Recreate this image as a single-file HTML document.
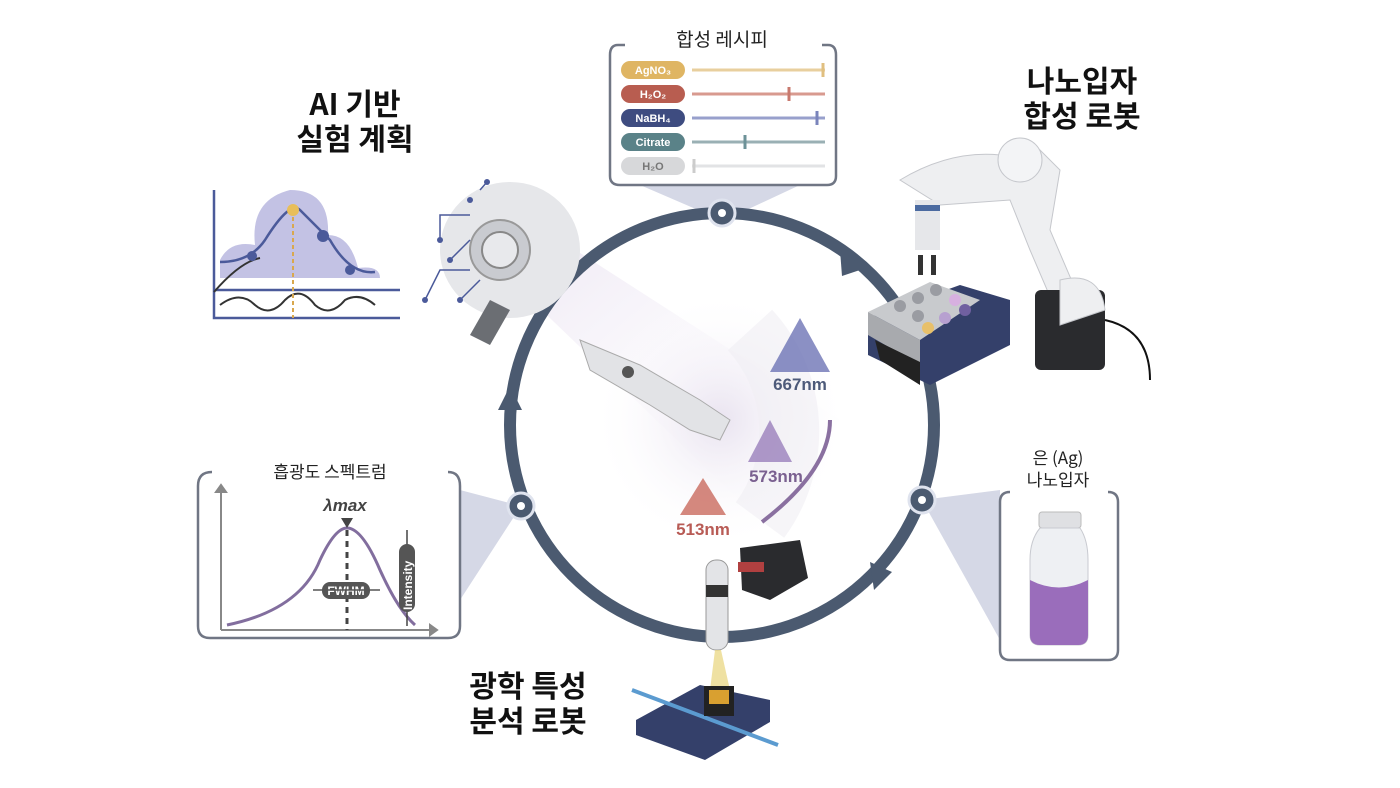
<!DOCTYPE html>
<html><head><meta charset="utf-8"><style>
html,body{margin:0;padding:0;background:#fff}
svg{display:block}
text{font-family:"Liberation Sans","Noto Sans CJK KR",sans-serif}
.k{font-family:"Noto Sans CJK KR","Liberation Sans",sans-serif}
</style></head><body>
<svg width="1400" height="788" viewBox="0 0 1400 788" xmlns="http://www.w3.org/2000/svg">
<defs>
<radialGradient id="g1" cx="50%" cy="50%" r="50%"><stop offset="0" stop-color="#e9e3f0"/><stop offset="1" stop-color="#fff" stop-opacity="0"/></radialGradient>
<linearGradient id="beam" x1="0" y1="0" x2="1" y2="1"><stop offset="0" stop-color="#eee8f4"/><stop offset="1" stop-color="#fff" stop-opacity="0"/></linearGradient>
</defs>
<!-- light beam -->
<polygon points="500,270 560,240 840,420 760,520" fill="url(#beam)"/>
<circle cx="720" cy="420" r="130" fill="url(#g1)"/>
<!-- funnels -->
<polygon points="640,185 800,185 740,213 705,213" fill="#d5d8e6"/>
<polygon points="460,490 460,600 521,506" fill="#d5d8e6"/>
<polygon points="1000,490 1000,640 922,500" fill="#d5d8e6"/>
<!-- ring -->
<circle cx="722" cy="425" r="212" fill="none" stroke="#4b5a70" stroke-width="12"/>
<polygon points="840,250 866,268 842,276" fill="#4b5a70"/>
<polygon points="870,562 892,572 874,590" fill="#4b5a70"/>
<polygon points="498,410 510,386 522,410" fill="#4b5a70"/>
<g fill="#4b5a70" stroke="#dfe3ee" stroke-width="3"><circle cx="722" cy="213" r="13"/><circle cx="521" cy="506" r="13"/><circle cx="922" cy="500" r="13"/></g>
<g fill="#fff"><circle cx="722" cy="213" r="4"/><circle cx="521" cy="506" r="4"/><circle cx="922" cy="500" r="4"/></g>
<!-- inner arc + triangles -->
<path d="M760,520 A150,150 0 0 0 750,330" fill="none" stroke="#f0eef4" stroke-width="60" opacity=".6"/>
<path d="M762,522 Q830,470 830,420" fill="none" stroke="#8a70a0" stroke-width="4"/>
<polygon points="800,318 770,372 830,372" fill="#6e74b5" opacity=".8"/>
<text x="800" y="390" font-size="17" font-weight="bold" fill="#4d5a7a" text-anchor="middle">667nm</text>
<polygon points="770,420 748,462 792,462" fill="#9a80bb" opacity=".8"/>
<text x="776" y="482" font-size="17" font-weight="bold" fill="#7a6090" text-anchor="middle">573nm</text>
<polygon points="703,478 680,515 726,515" fill="#c96a5e" opacity=".8"/>
<text x="703" y="535" font-size="17" font-weight="bold" fill="#b85b55" text-anchor="middle">513nm</text>
<!-- AI head -->
<ellipse cx="510" cy="250" rx="70" ry="68" fill="#e6e7ea"/>
<circle cx="500" cy="250" r="30" fill="#c9cbd0" stroke="#999" stroke-width="2"/>
<circle cx="500" cy="250" r="18" fill="#e8e9ec" stroke="#888" stroke-width="2"/>
<path d="M490,300 L470,335 L490,345 L510,310Z" fill="#6b6e73"/>
<g stroke="#4b5a9a" stroke-width="1.5" fill="none"><path d="M480,190 L487,182"/><path d="M470,215 L440,215 L440,240"/><path d="M470,240 L450,260"/><path d="M470,270 L440,270 L425,300"/><path d="M480,280 L460,300"/></g>
<g fill="#4b5a9a"><circle cx="487" cy="182" r="3"/><circle cx="440" cy="240" r="3"/><circle cx="450" cy="260" r="3"/><circle cx="425" cy="300" r="3"/><circle cx="460" cy="300" r="3"/><circle cx="470" cy="200" r="3"/></g>
<!-- robot hand -->
<path d="M580,340 L640,365 L700,400 L730,420 L720,440 L690,430 L650,405 L590,370Z" fill="#e2e3e6" stroke="#aaa"/>
<circle cx="628" cy="372" r="6" fill="#555"/>
<!-- AI chart -->
<text x="355" y="115" font-size="30" font-weight="bold" fill="#111" text-anchor="middle" class="k">AI 기반</text>
<text x="355" y="150" font-size="30" font-weight="bold" fill="#111" text-anchor="middle" class="k">실험 계획</text>
<path d="M220,260 Q230,240 255,245 Q250,200 290,190 Q330,190 328,235 Q350,235 358,268 Q380,265 380,278 L220,278Z" fill="#b9b7df" opacity=".85"/>
<g stroke="#4b5a9a" stroke-width="2.5" fill="none">
<path d="M214,190 L214,318 L400,318"/><path d="M214,290 L400,290"/>
<path d="M220,262 Q250,262 265,240 Q290,200 300,210 Q320,230 330,240 Q350,275 375,272"/>
</g>
<path d="M220,305 Q240,290 255,305 Q270,318 285,300 Q300,285 315,305 Q330,318 345,300 Q360,292 375,305" fill="none" stroke="#333" stroke-width="2"/>
<path d="M214,292 Q240,262 260,258" fill="none" stroke="#333" stroke-width="2"/>
<line x1="293" y1="210" x2="293" y2="318" stroke="#d9a84e" stroke-width="2" stroke-dasharray="4 3"/>
<circle cx="293" cy="210" r="6" fill="#e8be5a"/><circle cx="252" cy="256" r="5" fill="#4b5a9a"/><circle cx="323" cy="236" r="6" fill="#4b5a9a"/><circle cx="350" cy="270" r="5" fill="#4b5a9a"/>
<!-- recipe box -->
<text x="722" y="46" font-size="19" fill="#222" text-anchor="middle" class="k">합성 레시피</text>
<path d="M625,45 L618,45 Q610,45 610,55 L610,176 Q610,185 620,185 L827,185 Q836,185 836,176 L836,55 Q836,45 828,45 L822,45" fill="none" stroke="#707684" stroke-width="2.5"/>
<g font-size="11" font-weight="bold" fill="#fff" text-anchor="middle">
<rect x="621" y="61" width="64" height="18" rx="9" fill="#dfb563"/><text x="653" y="74">AgNO₃</text>
<rect x="621" y="85" width="64" height="18" rx="9" fill="#b85d50"/><text x="653" y="98">H₂O₂</text>
<rect x="621" y="109" width="64" height="18" rx="9" fill="#3e4c80"/><text x="653" y="122">NaBH₄</text>
<rect x="621" y="133" width="64" height="18" rx="9" fill="#5a8288"/><text x="653" y="146">Citrate</text>
<rect x="621" y="157" width="64" height="18" rx="9" fill="#d7d8da"/><text x="653" y="170" fill="#777">H₂O</text>
</g>
<g stroke-width="3"><line x1="692" y1="70" x2="825" y2="70" stroke="#e8cf9e"/><line x1="823" y1="63" x2="823" y2="77" stroke="#e0bf80"/>
<line x1="692" y1="94" x2="825" y2="94" stroke="#d89a8f"/><line x1="789" y1="87" x2="789" y2="101" stroke="#c8796e"/>
<line x1="692" y1="118" x2="825" y2="118" stroke="#98a0cc"/><line x1="817" y1="111" x2="817" y2="125" stroke="#7a84bb"/>
<line x1="692" y1="142" x2="825" y2="142" stroke="#9ab0b4"/><line x1="745" y1="135" x2="745" y2="149" stroke="#6d9298"/>
<line x1="692" y1="166" x2="825" y2="166" stroke="#e2e3e5"/><line x1="694" y1="159" x2="694" y2="173" stroke="#ccc"/></g>
<!-- synth robot -->
<text x="1082" y="92" font-size="30" font-weight="bold" fill="#111" text-anchor="middle" class="k">나노입자</text>
<text x="1082" y="127" font-size="30" font-weight="bold" fill="#111" text-anchor="middle" class="k">합성 로봇</text>
<path d="M900,180 Q950,150 1000,155 L1040,150 L1060,170 L1050,230 L1080,300 L1060,320 L1030,250 L1010,200 L940,205 Z" fill="#eeeff1" stroke="#c5c7cc"/>
<circle cx="1020" cy="160" r="22" fill="#f3f4f6" stroke="#c5c7cc"/>
<rect x="1035" y="290" width="70" height="80" rx="6" fill="#2a2b2e"/>
<path d="M1060,280 Q1100,270 1105,310 L1060,325Z" fill="#eeeff1" stroke="#c5c7cc"/>
<path d="M1105,320 Q1150,330 1150,380" fill="none" stroke="#111" stroke-width="2"/>
<rect x="915" y="200" width="25" height="50" fill="#e6e7ea"/><rect x="915" y="205" width="25" height="6" fill="#4b6aa0"/>
<rect x="918" y="255" width="5" height="20" fill="#333"/><rect x="931" y="255" width="5" height="20" fill="#333"/>
<polygon points="868,318 960,285 1010,300 1010,345 930,385 868,355" fill="#34406a"/>
<polygon points="868,312 930,282 980,300 920,340" fill="#c8cacd"/>
<polygon points="868,312 920,340 920,365 868,335" fill="#a8aaae"/>
<g fill="#9a9ca2"><circle cx="900" cy="306" r="6"/><circle cx="918" cy="298" r="6"/><circle cx="936" cy="290" r="6"/><circle cx="918" cy="316" r="6"/><circle cx="945" cy="318" r="6" fill="#b7a0d0"/><circle cx="955" cy="300" r="6" fill="#d7b0e0"/><circle cx="928" cy="328" r="6" fill="#e8c06a"/><circle cx="965" cy="310" r="6" fill="#7060a0"/></g>
<polygon points="875,340 920,362 920,385 880,360" fill="#222"/>
<!-- Ag box -->
<text x="1058" y="464" font-size="17" fill="#222" text-anchor="middle" class="k">은 (Ag)</text>
<text x="1058" y="486" font-size="17" fill="#222" text-anchor="middle" class="k">나노입자</text>
<path d="M1010,492 Q1000,492 1000,502 L1000,650 Q1000,660 1010,660 L1108,660 Q1118,660 1118,650 L1118,502 Q1118,492 1108,492" fill="none" stroke="#707684" stroke-width="2.5"/>
<rect x="1039" y="512" width="42" height="16" rx="3" fill="#dfe0e3" stroke="#bbb"/>
<path d="M1040,528 L1080,528 Q1088,540 1088,560 L1088,635 Q1088,645 1078,645 L1040,645 Q1030,645 1030,635 L1030,560 Q1030,540 1040,528Z" fill="#eef0f3" stroke="#c8cad0"/>
<path d="M1030,580 Q1059,595 1088,580 L1088,635 Q1088,645 1078,645 L1040,645 Q1030,645 1030,635Z" fill="#9a6dbb"/>
<!-- spectrum box -->
<text x="330" y="478" font-size="17" fill="#222" text-anchor="middle" class="k">흡광도 스펙트럼</text>
<path d="M212,472 Q198,472 198,486 L198,626 Q198,638 210,638 L448,638 Q460,638 460,626 L460,486 Q460,472 448,472" fill="none" stroke="#707684" stroke-width="2.5"/>
<g stroke="#888" stroke-width="2" fill="#888"><line x1="221" y1="490" x2="221" y2="630"/><polygon points="216,492 221,485 226,492"/><line x1="221" y1="630" x2="435" y2="630"/><polygon points="430,625 437,630 430,635"/></g>
<path d="M227,625 Q300,610 320,560 Q335,528 347,528 Q362,528 380,570 Q398,610 415,625" fill="none" stroke="#826e9e" stroke-width="3"/>
<line x1="347" y1="530" x2="347" y2="630" stroke="#444" stroke-width="3" stroke-dasharray="6 5"/>
<polygon points="341,518 353,518 347,528" fill="#444"/>
<text x="345" y="511" font-size="17" font-weight="bold" font-style="italic" fill="#444" text-anchor="middle">λmax</text>
<rect x="322" y="582" width="48" height="17" rx="8" fill="#555"/><text x="346" y="595" font-size="12" font-weight="bold" fill="#fff" text-anchor="middle">FWHM</text>
<line x1="313" y1="590" x2="380" y2="590" stroke="#555" stroke-width="1.5"/>
<line x1="407" y1="530" x2="407" y2="626" stroke="#444" stroke-width="1.5"/>
<rect x="399" y="544" width="16" height="68" rx="8" fill="#555"/>
<text x="412" y="610" font-size="12" font-weight="bold" fill="#fff" transform="rotate(-90 412 610)">Intensity</text>
<!-- optical robot -->
<text x="528" y="697" font-size="30" font-weight="bold" fill="#111" text-anchor="middle" class="k">광학 특성</text>
<text x="528" y="732" font-size="30" font-weight="bold" fill="#111" text-anchor="middle" class="k">분석 로봇</text>
<polygon points="740,548 800,540 808,578 770,600 742,590" fill="#2a2b2e"/>
<rect x="738" y="562" width="26" height="10" fill="#b04040"/>
<rect x="706" y="560" width="22" height="90" rx="10" fill="#e3e4e7" stroke="#999"/>
<rect x="706" y="585" width="22" height="12" fill="#333"/>
<polygon points="715,650 721,650 730,690 710,690" fill="#e8d47a" opacity=".7"/>
<polygon points="636,720 700,685 770,700 770,722 705,760 636,735" fill="#34406a"/>
<line x1="632" y1="690" x2="778" y2="745" stroke="#5b9bd0" stroke-width="4"/>
<rect x="704" y="686" width="30" height="30" fill="#222"/><rect x="709" y="690" width="20" height="14" fill="#d9a030"/>
</svg>
</body></html>
